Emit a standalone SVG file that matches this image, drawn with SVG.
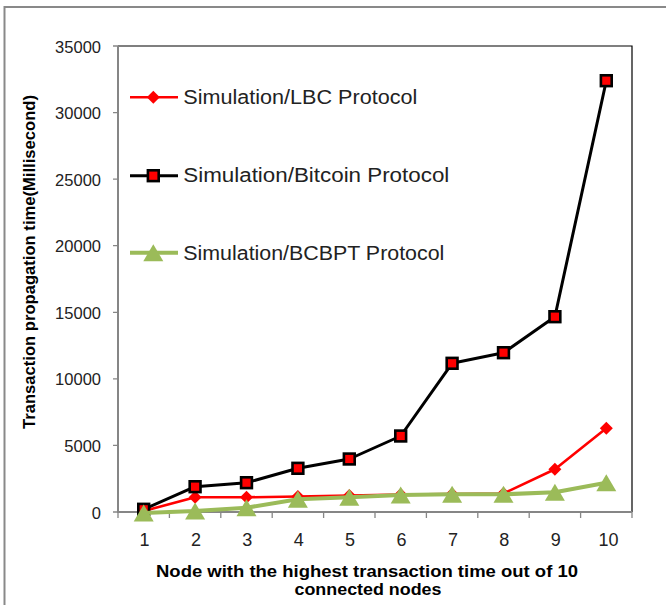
<svg xmlns="http://www.w3.org/2000/svg" xmlns:xlink="http://www.w3.org/1999/xlink" width="666" height="605" viewBox="0 0 666 605">
<style>
.tick{font-family:"Liberation Sans",Arial,sans-serif;font-size:16.5px;fill:#222}
.xt{font-family:"Liberation Sans",Arial,sans-serif;font-size:18px;fill:#222;text-anchor:middle}
.leg{font-family:"Liberation Sans",Arial,sans-serif;font-size:20px;fill:#222}
.title{font-family:"Liberation Sans",Arial,sans-serif;font-size:17px;font-weight:bold;fill:#000}
.ax{stroke:#868686;stroke-width:2;fill:none}
.tk{stroke:#868686;stroke-width:1.3;fill:none}
.lbc{stroke:#FF0000;stroke-width:2.6;fill:none;stroke-linejoin:round}
.btc{stroke:#000;stroke-width:3;fill:none;stroke-linejoin:round}
.bcb{stroke:#9BBB59;stroke-width:4;fill:none;stroke-linejoin:round}
</style>
<defs>
<path id="dia" d="M0,-6.5 L6.5,0 L0,6.5 L-6.5,0 Z" fill="#FF0000"/>
<rect id="sq" x="-5.4" y="-5.4" width="10.8" height="10.8" fill="#FF0000" stroke="#000" stroke-width="2.6"/>
<path id="tri" d="M0,-8.5 L10,8.5 L-10,8.5 Z" fill="#9BBB59"/>
</defs>
<rect width="666" height="605" fill="#fff"/>
<g id="frame"><path d="M4.5,605 L4.5,7 L666,7" fill="none" stroke="#898989" stroke-width="2"/></g>
<g id="plot-area">
<path d="M118,46 L632,46 L632,512" fill="none" stroke="#000" stroke-width="1.2"/>
</g>
<g id="axes">
<path class="ax" d="M118,46 L118,512 L632,512"/>
<path class="tk" d="M113,46H118M113,112.6H118M113,179.1H118M113,245.7H118M113,312.3H118M113,378.9H118M113,445.4H118M113,512H118"/>
<path class="tk" d="M118,512V518M169.4,512V518M220.8,512V518M272.2,512V518M323.6,512V518M375,512V518M426.4,512V518M477.8,512V518M529.2,512V518M580.6,512V518M632,512V518"/>
<g class="tick" text-anchor="end">
<text x="101" y="52.5">35000</text>
<text x="101" y="119.1">30000</text>
<text x="101" y="185.6">25000</text>
<text x="101" y="252.2">20000</text>
<text x="101" y="318.8">15000</text>
<text x="101" y="385.4">10000</text>
<text x="101" y="451.9">5000</text>
<text x="101" y="518.5">0</text>
</g>
<g>
<text class="xt" x="144.5" y="545.7">1</text>
<text class="xt" x="195.9" y="545.7">2</text>
<text class="xt" x="247.3" y="545.7">3</text>
<text class="xt" x="298.7" y="545.7">4</text>
<text class="xt" x="350.1" y="545.7">5</text>
<text class="xt" x="401.5" y="545.7">6</text>
<text class="xt" x="452.9" y="545.7">7</text>
<text class="xt" x="504.3" y="545.7">8</text>
<text class="xt" x="555.7" y="545.7">9</text>
<text class="xt" x="608.5" y="545.7">10</text>
</g>
<text class="title" transform="translate(34.5,262) rotate(-90)" text-anchor="middle" textLength="334" lengthAdjust="spacingAndGlyphs">Transaction propagation time(Millisecond)</text>
<text class="title" x="367" y="577" text-anchor="middle" textLength="422" lengthAdjust="spacingAndGlyphs">Node with the highest transaction time out of 10</text>
<text class="title" x="368" y="595" text-anchor="middle" textLength="147" lengthAdjust="spacingAndGlyphs">connected nodes</text>
</g>
<g id="series-lbc">
<polyline class="lbc" points="143.7,511 195.1,497.3 246.5,497.3 297.9,496.5 349.3,495.5 400.7,494.5 452.1,494 503.5,493.5 554.9,469.3 606.3,428.3"/>
<use xlink:href="#dia" x="143.7" y="511"/>
<use xlink:href="#dia" x="195.1" y="497.3"/>
<use xlink:href="#dia" x="246.5" y="497.3"/>
<use xlink:href="#dia" x="297.9" y="496.5"/>
<use xlink:href="#dia" x="349.3" y="495.5"/>
<use xlink:href="#dia" x="400.7" y="494.5"/>
<use xlink:href="#dia" x="452.1" y="494"/>
<use xlink:href="#dia" x="503.5" y="493.5"/>
<use xlink:href="#dia" x="554.9" y="469.3"/>
<use xlink:href="#dia" x="606.3" y="428.3"/>
</g>
<g id="series-bitcoin">
<polyline class="btc" points="143.7,509.3 195.1,486.7 246.5,482.7 297.9,468.3 349.3,459 400.7,436 452.1,363.3 503.5,352.7 554.9,316.7 606.3,80.7"/>
<use xlink:href="#sq" x="143.7" y="509.3"/>
<use xlink:href="#sq" x="195.1" y="486.7"/>
<use xlink:href="#sq" x="246.5" y="482.7"/>
<use xlink:href="#sq" x="297.9" y="468.3"/>
<use xlink:href="#sq" x="349.3" y="459"/>
<use xlink:href="#sq" x="400.7" y="436"/>
<use xlink:href="#sq" x="452.1" y="363.3"/>
<use xlink:href="#sq" x="503.5" y="352.7"/>
<use xlink:href="#sq" x="554.9" y="316.7"/>
<use xlink:href="#sq" x="606.3" y="80.7"/>
</g>
<g id="series-bcbpt">
<polyline class="bcb" points="143.7,513 195.1,511 246.5,507.7 297.9,499.3 349.3,497.3 400.7,495 452.1,494.3 503.5,494.3 554.9,492.3 606.3,482.7"/>
<use xlink:href="#tri" x="143.7" y="513"/>
<use xlink:href="#tri" x="195.1" y="511"/>
<use xlink:href="#tri" x="246.5" y="507.7"/>
<use xlink:href="#tri" x="297.9" y="499.3"/>
<use xlink:href="#tri" x="349.3" y="497.3"/>
<use xlink:href="#tri" x="400.7" y="495"/>
<use xlink:href="#tri" x="452.1" y="494.3"/>
<use xlink:href="#tri" x="503.5" y="494.3"/>
<use xlink:href="#tri" x="554.9" y="492.3"/>
<use xlink:href="#tri" x="606.3" y="482.7"/>
</g>
<g id="legend">
<g id="legend-lbc">
<line class="lbc" x1="130" y1="97.3" x2="178" y2="97.3"/>
<use xlink:href="#dia" x="153.3" y="97.3"/>
<text class="leg" x="183.3" y="104" textLength="234" lengthAdjust="spacingAndGlyphs">Simulation/LBC Protocol</text>
</g>
<g id="legend-bitcoin">
<line class="btc" x1="130" y1="175.7" x2="178" y2="175.7"/>
<use xlink:href="#sq" x="153.3" y="175.7"/>
<text class="leg" x="183.3" y="182" textLength="266" lengthAdjust="spacingAndGlyphs">Simulation/Bitcoin Protocol</text>
</g>
<g id="legend-bcbpt">
<line class="bcb" x1="130" y1="252.7" x2="178" y2="252.7"/>
<use xlink:href="#tri" x="153.3" y="252.7"/>
<text class="leg" x="183.3" y="259.5" textLength="261" lengthAdjust="spacingAndGlyphs">Simulation/BCBPT Protocol</text>
</g>
</g>
</svg>
